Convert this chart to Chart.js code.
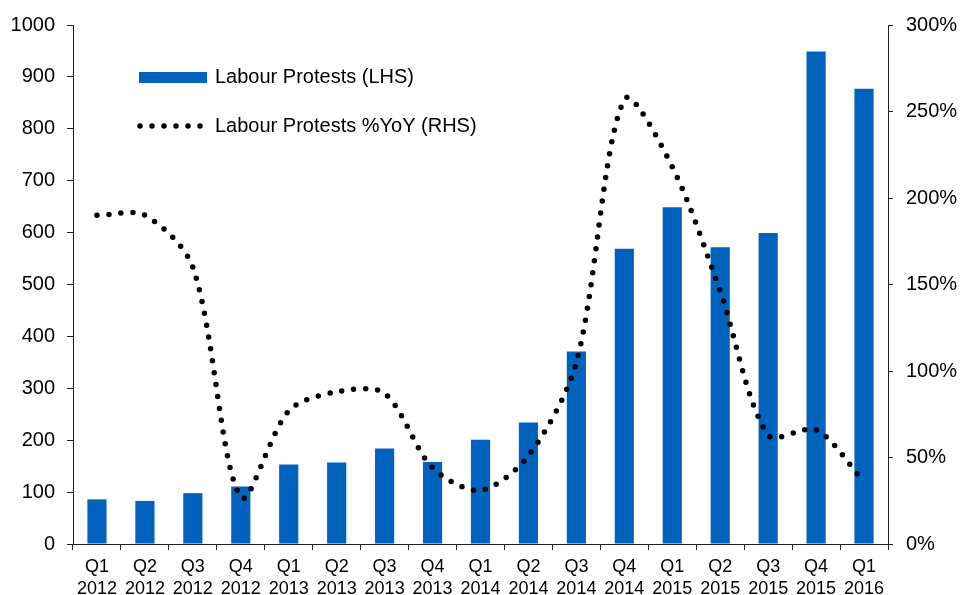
<!DOCTYPE html>
<html>
<head>
<meta charset="utf-8">
<script src="https://cdn.jsdelivr.net/npm/chart.js@4/dist/chart.umd.min.js"></script>
<style>
  html, body { margin: 0; padding: 0; background: #fff; }
  canvas { display: block; }
</style>
</head>
<body>
<canvas id="chart" width="962" height="595"></canvas>
<script>
// Data
const quarters = ['Q1', 'Q2', 'Q3', 'Q4', 'Q1', 'Q2', 'Q3', 'Q4', 'Q1', 'Q2', 'Q3', 'Q4', 'Q1', 'Q2', 'Q3', 'Q4', 'Q1'];
const years = ['2012', '2012', '2012', '2012', '2013', '2013', '2013', '2013', '2014', '2014', '2014', '2014', '2015', '2015', '2015', '2015', '2016'];
const protests = [86, 83, 98, 111, 153, 157, 184, 158, 201, 234, 371, 569, 649, 572, 599, 949, 877];
const protestsYoY = [190, 190, 160, 27, 77, 88, 87, 44, 31, 51, 105, 257, 218, 146, 63, 66, 36];
const leftTicks = [0, 100, 200, 300, 400, 500, 600, 700, 800, 900, 1000];
const rightTicks = [0, 50, 100, 150, 200, 250, 300];

const BLUE = '#0063be';
const INK = '#000';
const AXIS = '#222';
const FONT = "'Liberation Sans', Arial, sans-serif";

const labels = quarters.map((q, i) => [q, years[i]]);

// Legend drawn inside the plot, top-left
const insideLegend = {
  id: 'insideLegend',
  afterDraw(chart) {
    const c = chart.ctx;
    const x0 = chart.chartArea.left + 66;
    c.save();
    c.fillStyle = BLUE;
    c.fillRect(x0, 72, 68, 11);

    c.strokeStyle = INK;
    c.lineWidth = 5.5;
    c.lineCap = 'round';
    c.setLineDash([0, 12]);
    c.beginPath();
    c.moveTo(x0 + 1, 126);
    c.lineTo(x0 + 64, 126);
    c.stroke();
    c.setLineDash([]);

    c.fillStyle = INK;
    c.font = '20px ' + FONT;
    c.textBaseline = 'middle';
    c.fillText('Labour Protests (LHS)', x0 + 76, 77);
    c.fillText('Labour Protests %YoY (RHS)', x0 + 76, 126);
    c.restore();
  }
};

new Chart(document.getElementById('chart'), {
  type: 'bar',
  data: {
    labels,
    datasets: [
      {
        type: 'line',
        label: 'Labour Protests %YoY (RHS)',
        data: protestsYoY,
        yAxisID: 'yR',
        borderColor: INK,
        borderWidth: 5.5,
        borderDash: [0, 12],
        borderCapStyle: 'round',
        tension: 0.3,
        pointRadius: 0,
        fill: false,
        order: 0
      },
      {
        label: 'Labour Protests (LHS)',
        data: protests,
        yAxisID: 'yL',
        backgroundColor: BLUE,
        borderWidth: 0,
        categoryPercentage: 1,
        barPercentage: 0.4,
        order: 1
      }
    ]
  },
  options: {
    responsive: false,
    animation: false,
    layout: { padding: { top: 24, left: 0, right: 0, bottom: 0 } },
    plugins: {
      legend: { display: false },
      tooltip: { enabled: false }
    },
    scales: {
      x: {
        offset: true,
        grid: {
          offset: true,
          drawOnChartArea: false,
          tickLength: 6,
          tickColor: AXIS
        },
        border: { color: AXIS, width: 1 },
        ticks: {
          color: INK,
          maxRotation: 0,
          autoSkip: false,
          padding: 7,
          font: { family: FONT, size: 18, lineHeight: 1.17 }
        },
        afterFit: s => { s.height = 51; }
      },
      yL: {
        position: 'left',
        min: 0,
        max: 1000,
        afterBuildTicks: s => { s.ticks = leftTicks.map(v => ({ value: v })); },
        grid: { drawOnChartArea: false, tickLength: 6, tickColor: AXIS },
        border: { color: AXIS, width: 1 },
        ticks: {
          color: INK,
          padding: 12,
          font: { family: FONT, size: 20 },
          callback: v => String(v)
        },
        afterFit: s => { s.width = 73; }
      },
      yR: {
        position: 'right',
        min: 0,
        max: 300,
        afterBuildTicks: s => { s.ticks = rightTicks.map(v => ({ value: v })); },
        grid: { drawOnChartArea: false, tickLength: 5, tickColor: AXIS },
        border: { color: AXIS, width: 1 },
        ticks: {
          color: INK,
          padding: 13,
          font: { family: FONT, size: 20 },
          callback: v => v + '%'
        },
        afterFit: s => { s.width = 74; }
      }
    }
  },
  plugins: [insideLegend]
});
</script>
</body>
</html>
